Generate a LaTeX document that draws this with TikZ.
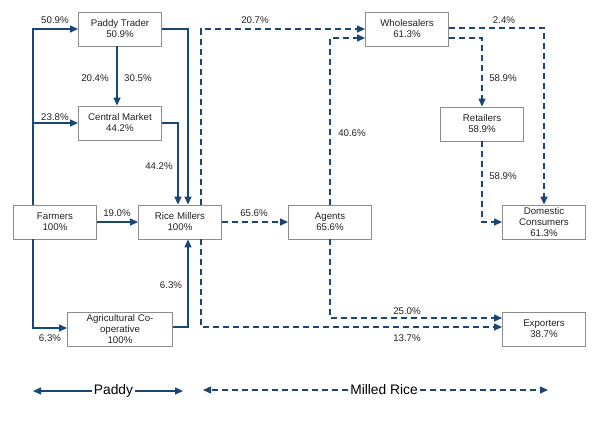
\documentclass[tikz,border=0pt]{standalone}
\usepackage{fontspec}
\setmainfont{Liberation Sans}
\usetikzlibrary{arrows.meta}
\definecolor{flowblue}{RGB}{24,70,118}
\definecolor{boxgray}{RGB}{140,140,140}
\definecolor{txtgray}{RGB}{34,34,34}

\tikzset{
  actor/.style={draw=boxgray, line width=0.9pt, rectangle, minimum width=83pt,
    minimum height=34pt, inner sep=0pt, align=center, text=txtgray,
    font=\fontsize{9.7}{11}\selectfont},
  paddy/.style={flowblue, line width=1.4pt, -{Triangle[length=8pt,width=7pt]}},
  milled/.style={paddy, dash pattern=on 6pt off 4pt},
  pct/.style={text=txtgray, font=\fontsize{9.7}{11}\selectfont},
  legend/.style={text=black, font=\fontsize{13.8}{15}\selectfont, inner sep=2pt}
}

\begin{document}
\begin{tikzpicture}[x=1pt, y=-1pt]
  \useasboundingbox (0,0) rectangle (604,421);

  % actors
  \node[actor] (trader) at (120,29) {Paddy Trader\\50.9\%};
  \node[actor] (cmkt) at (120,123) {Central Market\\44.2\%};
  \node[actor] (farm) at (55,222) {Farmers\\100\%};
  \node[actor] (mill) at (180,222) {Rice Millers\\100\%};
  \node[actor, minimum width=105pt] (coop) at (120,329) {Agricultural Co-\\operative\\100\%};
  \node[actor] (agent) at (330,222) {Agents\\65.6\%};
  \node[actor] (whole) at (407,29) {Wholesalers\\61.3\%};
  \node[actor] (ret) at (482,124) {Retailers\\58.9\%};
  \node[actor] (dom) at (544,222) {Domestic\\Consumers\\61.3\%};
  \node[actor] (exp) at (544,329) {Exporters\\38.7\%};

  % paddy flows
  \draw[paddy] ([xshift=-22pt]farm.north) |- (trader.west);
  \draw[paddy] (33,123) -- (cmkt.west);
  \draw[paddy] ([xshift=-22pt]farm.south) |- ([yshift=1pt]coop.west);
  \draw[paddy] (farm.east) -- (mill.west);
  \draw[paddy] ([xshift=-3pt]trader.south) -- ([xshift=-3pt]cmkt.north);
  \draw[paddy] (trader.east) -| ([xshift=8pt]mill.north);
  \draw[paddy] (cmkt.east) -| ([xshift=-2pt]mill.north);
  \draw[paddy] ([yshift=2pt]coop.east) -| ([xshift=8pt]mill.south);

  % milled rice flows
  \draw[milled] (mill.east) -- (agent.west);
  \draw[milled] ([xshift=21pt]mill.north) |- (whole.west);
  \draw[milled] ([xshift=21pt]mill.south) |- ([yshift=2pt]exp.west);
  \draw[milled] (agent.north) |- ([yshift=-9pt]whole.west);
  \draw[milled] (agent.south) |- ([yshift=11pt]exp.west);
  \draw[milled] ([yshift=1pt]whole.east) -| (dom.north);
  \draw[milled] ([yshift=-9pt]whole.east) -| (ret.north);
  \draw[milled] (ret.south) |- (dom.west);

  % shares
  \node[pct] at (55,20) {50.9\%};
  \node[pct] at (55,117) {23.8\%};
  \node[pct] at (50,338) {6.3\%};
  \node[pct] at (117,213) {19.0\%};
  \node[pct] at (95,78) {20.4\%};
  \node[pct] at (138,78) {30.5\%};
  \node[pct] at (159,166) {44.2\%};
  \node[pct] at (171,285) {6.3\%};
  \node[pct] at (254,213) {65.6\%};
  \node[pct] at (255,20) {20.7\%};
  \node[pct] at (407,338) {13.7\%};
  \node[pct] at (352,133) {40.6\%};
  \node[pct] at (407,311) {25.0\%};
  \node[pct] at (504,20) {2.4\%};
  \node[pct] at (503,78) {58.9\%};
  \node[pct] at (503,176) {58.9\%};

  % legend
  \coordinate (padL) at (33,391);
  \coordinate (padR) at (183,391);
  \coordinate (milL) at (203,390);
  \coordinate (milR) at (548,390);
  \node[legend] (padtxt) at (113.5,391) {Paddy};
  \node[legend] (miltxt) at (384,390) {Milled Rice};
  \draw[paddy] (padtxt.west) -- (padL);
  \draw[paddy] (padtxt.east) -- (padR);
  \draw[milled] (miltxt.west) -- (milL);
  \draw[milled] (miltxt.east) -- (milR);
\end{tikzpicture}
\end{document}
